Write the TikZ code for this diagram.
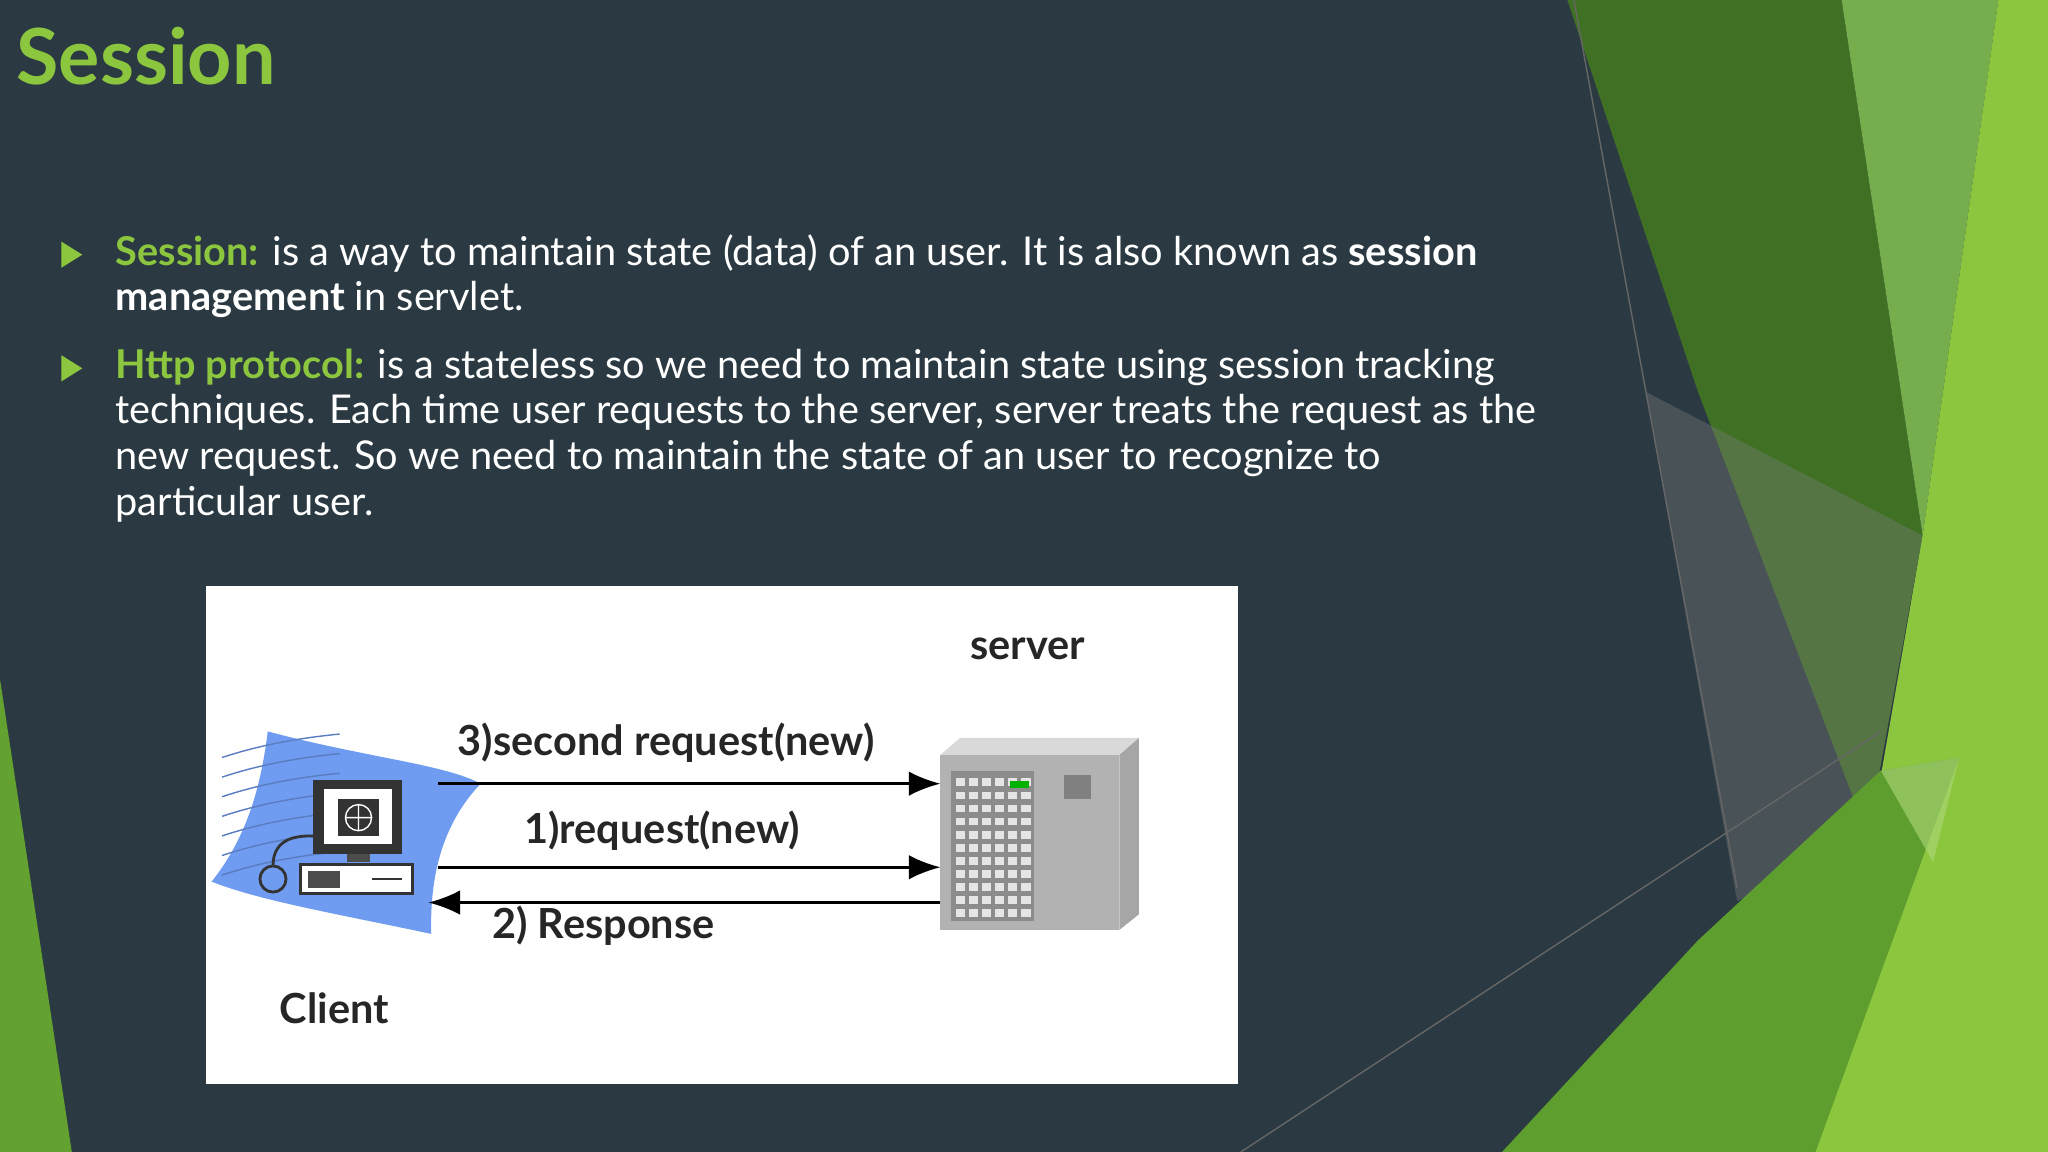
\documentclass[tikz,border=0pt]{standalone}
\usepackage{fontspec}
\setmainfont{Lato}
\usetikzlibrary{positioning,arrows.meta}
\definecolor{slatebg}{HTML}{2B3A42}
\definecolor{limegreen}{HTML}{8CC63F}
\definecolor{darkgreen}{HTML}{3F7024}
\definecolor{midgreen}{HTML}{5E9E2E}
\definecolor{paleblue}{HTML}{6F9CF0}
\tikzset{
  bodytext/.style={anchor=west, text=white, font=\fontsize{11.3}{14}\selectfont, inner sep=0pt},
  bulletmark/.style={fill=limegreen, draw=none},
  labeltext/.style={font=\fontsize{11.8}{14}\selectfont\bfseries, text=black!85, inner sep=1pt},
  flow/.style={thick, -{Latex[length=9pt,width=7pt]}}
}
\begin{document}
\begin{tikzpicture}[x=0.01306cm, y=-0.01306cm]
        \fill[slatebg] (0,0) rectangle (1568,882);
        \useasboundingbox (0,0) rectangle (1568,882);

        % green panels at the right
        \fill[darkgreen] (1200,0) -- (1410,0) -- (1472,410) -- (1430,640) -- (1300,300) -- cycle;
        \fill[midgreen!85!white] (1410,0) -- (1530,0) -- (1472,410) -- cycle;
        \fill[gray, opacity=0.35] (1260,300) -- (1472,410) -- (1430,640) -- (1330,690) -- cycle;
        \fill[limegreen] (1530,0) -- (1568,0) -- (1568,882) -- (1390,882) -- (1472,410) -- cycle;
        \fill[midgreen] (1150,882) -- (1300,720) -- (1440,590) -- (1500,580) -- (1390,882) -- cycle;
        \fill[limegreen!70!white, opacity=0.6] (1440,590) -- (1500,580) -- (1480,660) -- cycle;
        \draw[black!60, thin] (1205,0) -- (1330,680);
        \draw[black!60, thin] (950,882) -- (1440,560);
        \fill[midgreen!90!limegreen] (0,520) -- (55,882) -- (0,882) -- cycle;

        % title and text
        \node[anchor=west, text=limegreen, font=\fontsize{22}{26}\selectfont\bfseries, inner sep=0pt] (title) at (12,43) {Session};

        \fill[bulletmark] (47,185) -- (63,195) -- (47,205) -- cycle;
        \node[bodytext] (l1) at (88,194) {\textcolor{limegreen}{\textbf{Session:}} is a way to maintain state (data) of an user. It is also known as \textbf{session}};
        \node[bodytext] (l2) at (88,229) {\textbf{management} in servlet.};
        \fill[bulletmark] (47,272) -- (63,282) -- (47,292) -- cycle;
        \node[bodytext] (l3) at (88,281) {\textcolor{limegreen}{\textbf{Http protocol:}} is a stateless so we need to maintain state using session tracking};
        \node[bodytext] (l4) at (88,316) {techniques. Each time user requests to the server, server treats the request as the};
        \node[bodytext] (l5) at (88,351) {new request. So we need to maintain the state of an user to recognize to};
        \node[bodytext] (l6) at (88,386) {particular user.};

        % diagram panel
        \fill[white] (158,449) rectangle (948,830);

        % client swoosh and computer
        \fill[paleblue] (205,560) .. controls (280,580) and (340,585) .. (368,600)
          .. controls (330,640) and (330,690) .. (330,715)
          .. controls (260,700) and (200,690) .. (162,675)
          .. controls (190,640) and (200,600) .. (205,560) -- cycle;
        \foreach \yy in {570,585,600,615,630,645,660} {
          \draw[paleblue!80!black, thin] (170,\yy+10) .. controls (200,\yy) and (230,\yy-5) .. (260,\yy-8);
        }
        \fill[black!80] (240,597) rectangle (308,654);
        \fill[white] (248,604) rectangle (300,646);
        \fill[black!80] (259,612) rectangle (290,640);
        \draw[white, thin] (274.5,626) circle (10) (264.5,626) -- (284.5,626) (274.5,616) -- (274.5,636);
        \fill[black!70] (266,654) rectangle (283,660);
        \filldraw[fill=white, draw=black!80, thick] (230,662) rectangle (316,684);
        \fill[black!70] (236,667) rectangle (260,680);
        \draw[black!80, thick] (285,673) -- (308,673);
        \draw[black!80, thick] (209,673) circle (10);
        \draw[black!80, thick] (209,663) .. controls (209,640) and (230,640) .. (240,640);

        % server box
        \fill[black!15] (735,565) -- (872,565) -- (857,578) -- (720,578) -- cycle;
        \fill[black!35] (857,578) -- (872,565) -- (872,700) -- (857,712) -- cycle;
        \fill[black!30] (720,578) rectangle (857,712);
        \fill[black!45] (728,590) rectangle (792,705);
        \foreach \xx in {732,742,752,762,772,782} {
          \foreach \yy in {596,606,616,626,636,646,656,666,676,686,696} {
            \fill[white!90!black] (\xx,\yy) rectangle ++(7,6);
          }
        }
        \fill[green!70!black] (773,598) rectangle (788,603);
        \fill[black!50] (815,593) rectangle (835,612);

        % labels and connectors
        \node[labeltext] (srv) at (787,497) {server};
        \node[labeltext] (cli) at (256,772) {Client};
        \coordinate (c3) at (335,600); \coordinate (s3) at (720,600);
        \coordinate (c1) at (335,664); \coordinate (s1) at (720,664);
        \coordinate (s2) at (720,691); \coordinate (c2) at (328,691);
        \draw[flow] (c3) -- (s3);
        \draw[flow] (c1) -- (s1);
        \draw[flow] (s2) -- (c2);
        \node[labeltext] (lab3) at (510,569) {3)second request(new)};
        \node[labeltext] (lab1) at (507,636) {1)request(new)};
        \node[labeltext] (lab2) at (462,709) {2) Response};
\end{tikzpicture}
\end{document}
